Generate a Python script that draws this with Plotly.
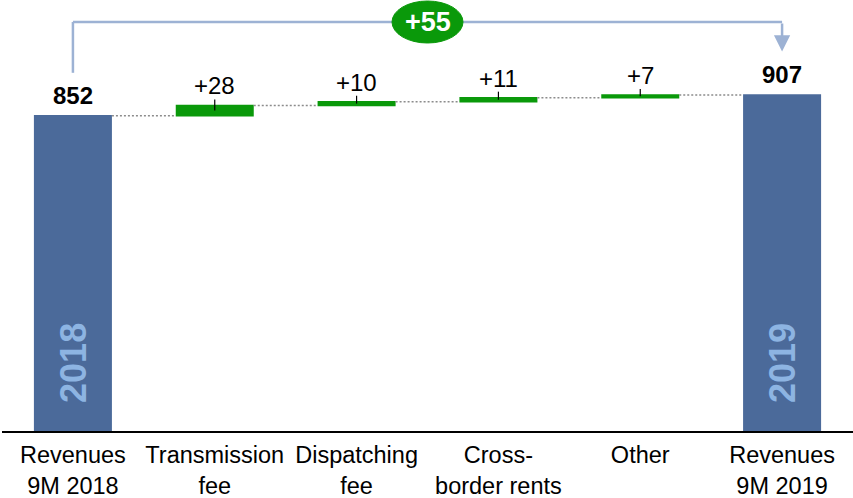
import plotly.graph_objects as go

# ---- data ----
categories = ["Revenues<br>9M 2018", "Transmission<br>fee", "Dispatching<br>fee",
              "Cross-<br>border rents", "Other", "Revenues<br>9M 2019"]
values = [852, 28, 10, 11, 7, 907]
measures = ["absolute", "relative", "relative", "relative", "relative", "total"]
year_labels = ["2018", "", "", "", "", "2019"]
delta_label = "+55"

# ---- style / layout ----
W, H = 853, 498
M_T, M_B, M_L, M_R = 0, 67, 2, 0
Y_MAX = 1165
PLOT_H = H - M_T - M_B
PPU = PLOT_H / Y_MAX  # pixels per unit

BLUE = "#4B6A9A"
GREEN = "#0A990A"
LIGHT = "#8DB4E2"
BRACKET = "#9DB2D4"
FONT = "Arial, Liberation Sans, sans-serif"

xs = list(range(len(categories)))

fig = go.Figure()
fig.add_trace(go.Waterfall(
    x=xs, y=values, measure=measures, width=0.55,
    totals=dict(marker=dict(color=BLUE)),
    increasing=dict(marker=dict(color=GREEN)),
    decreasing=dict(marker=dict(color="#C00000")),
    connector=dict(mode="between", line=dict(color="#8C8C8C", width=1.5, dash="2px,2px")),
    hoverinfo="skip", showlegend=False,
))

# cumulative levels
bases = []
run = 0
for v, m in zip(values, measures):
    if m == "absolute":
        base, run = 0, v
    elif m == "total":
        base = 0
    else:
        base = run
        run = run + v
    bases.append(base)

annotations = []
shapes = []
for i, (v, m) in enumerate(zip(values, measures)):
    if m in ("absolute", "total"):
        annotations.append(dict(x=i, y=v, text=f"<b>{v}</b>", showarrow=False,
                                yanchor="bottom", yshift=5,
                                font=dict(size=24, color="black", family=FONT)))
        if year_labels[i]:
            annotations.append(dict(x=i, y=0, text=f"<b>{year_labels[i]}</b>", showarrow=False,
                                    textangle=-90, yanchor="bottom", yshift=26,
                                    font=dict(size=36, color=LIGHT, family=FONT)))
    else:
        top = bases[i] + v
        mid = bases[i] + v / 2
        annotations.append(dict(x=i, y=top, text=f"+{v}", showarrow=False,
                                yanchor="bottom", yshift=4,
                                font=dict(size=24, color="black", family=FONT)))
        shapes.append(dict(type="line", xref="x", yref="y", x0=i, x1=i,
                           y0=mid, y1=top + 6 / PPU,
                           line=dict(color="black", width=1.2)))

# bracket from first total to last total
start_v, end_v = values[0], values[-1]
bracket_y = Y_MAX - 22 / PPU
left_bottom = start_v + 43 / PPU
arrow_tip = end_v + 44 / PPU
first_i, last_i = xs[0], xs[-1]
shapes.append(dict(type="line", xref="x", yref="y", x0=first_i, x1=first_i,
                   y0=left_bottom, y1=bracket_y, line=dict(color=BRACKET, width=2.5)))
shapes.append(dict(type="line", xref="x", yref="y", x0=first_i, x1=last_i,
                   y0=bracket_y, y1=bracket_y, line=dict(color=BRACKET, width=2.5)))
annotations.append(dict(x=last_i, y=arrow_tip, ax=last_i, ay=bracket_y,
                        xref="x", yref="y", axref="x", ayref="y",
                        showarrow=True, arrowhead=2, arrowsize=1.3, arrowwidth=2.5,
                        arrowcolor=BRACKET, text=""))
# oval with delta
mid_x = (first_i + last_i) / 2
shapes.append(dict(type="circle", xref="x", yref="y", xsizemode="pixel", ysizemode="pixel",
                   xanchor=mid_x, yanchor=bracket_y, x0=-35.5, x1=35.5, y0=-21, y1=21,
                   fillcolor=GREEN, line=dict(color=GREEN, width=1)))
annotations.append(dict(x=mid_x, y=bracket_y, text=f"<b>{delta_label}</b>", showarrow=False,
                        font=dict(size=27, color="white", family=FONT)))

fig.update_layout(
    width=W, height=H,
    margin=dict(l=M_L, r=M_R, t=M_T, b=M_B),
    paper_bgcolor="white", plot_bgcolor="white",
    shapes=shapes, annotations=annotations,
    xaxis=dict(range=[-0.5, len(categories) - 0.5], tickvals=xs, ticktext=categories,
               showline=True, linecolor="black", linewidth=2, showgrid=False, zeroline=False,
               ticks="", ticklabelstandoff=2,
               tickfont=dict(size=23.5, color="black", family=FONT), fixedrange=True),
    yaxis=dict(range=[0, Y_MAX], visible=False, showgrid=False, zeroline=False, fixedrange=True),
    font=dict(family=FONT),
)
fig.write_html("out.html")
